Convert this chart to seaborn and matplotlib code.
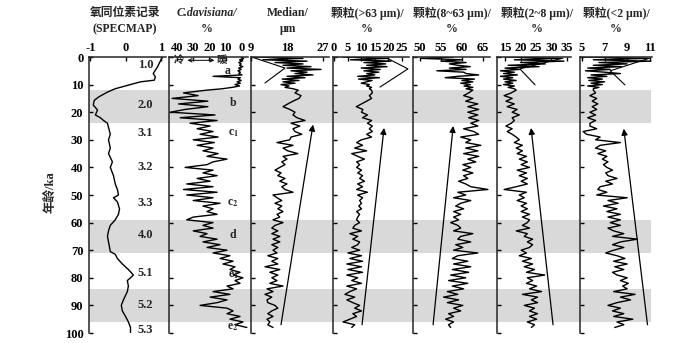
import numpy as np
import matplotlib.pyplot as plt
import seaborn as sns

# --- data (age in ka) ---
age = np.concatenate([np.arange(0, 12, 0.5), np.arange(12, 99, 1.0)])

spec_age = [0, 2, 3.6, 6, 7.2, 8.4, 9, 10.3, 11.5, 12.7, 14.5, 15.7, 17.4, 19.2, 21, 22, 23, 24,
            25.5, 28, 30, 33, 35, 38, 40, 43, 46, 48, 50, 51, 52.5, 55, 57, 59, 61, 63, 65, 67,
            69, 70.5, 71.5, 73, 75, 77, 79, 80, 81, 83, 85, 88, 90, 92, 94, 96, 98, 100]
spec_val = [1.03, 0.95, 0.89, 0.77, 0.83, 0.80, 0.41, 0.04, -0.30, -0.52, -0.77, -0.89, -0.92,
            -0.80, -0.86, -0.72, -0.63, -0.52, -0.49, -0.44, -0.49, -0.44, -0.49, -0.38, -0.44,
            -0.35, -0.30, -0.24, -0.21, -0.35, -0.24, -0.18, -0.21, -0.30, -0.44, -0.49, -0.52,
            -0.49, -0.46, -0.44, -0.30, -0.24, -0.10, 0.07, 0.21, 0.13, 0.04, 0.07, 0.04, -0.07,
            -0.13, -0.10, -0.01, 0.07, 0.13, 0.13]

davis = [0.5, -1, 1.5, 0, 2, 0.5, 1.5, -0.5, 2, 0.5, 2.5, 1, 2, 0, 17.8, 1, 2.5, 0.5, 3, 1, 4.3, 1.5, 6, 12,
         21.5, 36, 27, 43, 21, 39, 21, 35,
         44, 16.6, 38, 15.3, 32, 19.6, 27.6, 17.8, 25.8, 14.7,
         30, 17, 27.6, 17.8, 24, 14.7, 21.5, 9.2, 17.8, 21.5,
         35, 17.8, 24, 15.3, 27.6, 19.6, 34, 17.8, 36, 15.3,
         34, 17.8, 30, 13.5, 24, 17.8, 21.5, 15.3, 30, 34,
         17.8, 24, 17.8, 30, 21.5, 25.8, 15.3, 24, 13.5, 21.5,
         9.2, 17.8, 7.4, 13.5, 5.5, 11.7, 4.3, 7.4, 1.2, 5.5,
         -0.6, 4.3, 1.2, 9.2, 5.5, 17.8, 7.4, 19.6, 9.2, 15.3,
         25.8, 9.2, 5.5, 9.2, 1.2, 7.4, -0.6, 4.3, -3]

median = [10, 22, 12, 23, 15, 22, 17, 24, 18, 26.5, 19, 23, 20, 24.5, 18, 22.5, 16.8, 21, 17, 20, 16.5, 18.5, 17.5, 19.5,
          20.8, 20.0, 21.5, 21.0, 19.5, 18.2, 17.0, 18.7,
          20.0, 19.5, 20.5, 22.5, 19.0, 21.2, 19.5, 20.0, 21.7, 19.0,
          18.7, 15.5, 19.5, 17.0, 18.2, 20.7, 17.0, 18.0, 16.7, 17.5,
          16.2, 15.0, 16.5, 15.7, 17.5, 16.2, 18.0, 16.7, 17.5, 19.5,
          14.5, 15.5, 16.7, 15.0, 16.7, 15.7, 17.0, 15.5, 16.2, 14.5,
          17.0, 15.0, 14.2, 15.7, 14.2, 16.2, 14.5, 16.2, 14.2, 15.7,
          14.5, 15.5, 13.2, 15.7, 14.2, 15.7, 12.5, 16.2, 13.7, 15.7,
          14.2, 15.5, 13.7, 17.0, 13.0, 14.5, 12.5, 14.2, 13.0, 13.2,
          15.0, 15.7, 14.2, 13.2, 14.5, 13.0, 13.7, 13.2, 14.5]

coarse = [3, 20, 6, 21, 11, 19, 12, 19.5, 10, 17, 11, 16.5, 12, 15, 8.7, 16.7, 9, 14, 12, 10, 13, 12, 13.8, 13,
          13.8, 14.1, 13.0, 13.8, 12.0, 10.1, 8.2, 10.6,
          10.1, 12.3, 10.5, 13.8, 12.3, 14.1, 13.0, 14.1, 12.0, 13.8,
          10.1, 8.3, 10.5, 7.6, 12.0, 6.5, 8.7, 11.2, 8.3, 9.4,
          8.3, 10.1, 8.7, 10.5, 9.4, 11.2, 8.7, 10.5, 8.3, 12.3,
          8.7, 10.5, 9.4, 10.1, 9.1, 10.1, 8.3, 9.4, 8.7, 8.3,
          9.4, 7.6, 6.9, 10.1, 5.8, 8.7, 6.9, 9.4, 8.7, 6.5,
          9.4, 5.1, 10.1, 5.8, 10.5, 4.7, 10.1, 5.1, 10.5, 4.7,
          8.7, 6.5, 10.1, 4.7, 8.3, 5.8, 4.0, 7.6, 4.7, 6.9,
          9.4, 7.6, 10.1, 6.9, 8.3, 5.8, 3.3, 7.6, 6.5]

silt = [58, 50.2, 60, 55, 61, 57, 59, 62, 57, 61, 54, 60.4, 61, 64, 59, 56, 63, 60, 62.6, 59.7, 62, 60.5, 62.6, 61,
        62.6, 61.6, 60.4, 62.6, 60.9, 63.8, 61.4, 64.0,
        61.4, 63.8, 61.6, 64.0, 62.1, 63.8, 60.4, 62.8, 64.0, 59.7,
        62.1, 60.9, 64.5, 60.9, 63.8, 60.4, 64.0, 61.4, 63.3, 60.2,
        62.1, 60.2, 62.6, 60.4, 61.4, 59.2, 60.9, 62.1, 66.2, 59.0,
        60.9, 58.0, 62.1, 59.7, 58.5, 60.4, 58.0, 59.7, 58.0, 59.2,
        57.3, 59.0, 59.7, 58.0, 62.6, 59.7, 59.0, 62.1, 58.5, 60.2,
        58.0, 63.8, 59.0, 57.7, 61.4, 58.0, 62.1, 57.7, 61.6, 57.3,
        60.9, 56.8, 61.4, 57.7, 60.4, 56.5, 59.0, 55.6, 59.2, 56.5,
        60.2, 58.0, 59.7, 56.8, 58.0, 56.1, 58.0, 56.8, 57.3]

fine_silt = [15, 33, 18, 34, 20, 28, 16, 26, 15, 19.6, 13.5, 18, 14.5, 19, 13.5, 17.5, 14.5, 18.6, 15, 17.5, 14.5, 18, 16, 18,
             18.6, 17.0, 14.7, 17.3, 15.3, 18.0, 15.7, 18.9,
             17.3, 19.6, 17.3, 18.0, 17.0, 15.3, 17.3, 15.7, 17.3, 18.6,
             19.6, 18.0, 20.6, 18.6, 20.6, 18.9, 21.9, 19.6, 22.2, 20.2,
             22.9, 18.9, 21.9, 19.6, 22.2, 20.2, 22.2, 18.6, 14.7, 21.9,
             19.6, 21.2, 18.9, 21.9, 20.2, 22.2, 20.2, 22.9, 20.6, 22.9,
             22.2, 20.6, 22.9, 18.6, 22.2, 21.2, 23.9, 22.2, 23.9, 22.9,
             20.2, 21.9, 19.6, 23.5, 20.6, 23.9, 21.2, 24.5, 21.9, 27.8,
             22.2, 23.9, 21.9, 25.2, 22.9, 26.8, 20.6, 25.5, 23.5, 25.5,
             21.2, 24.5, 22.9, 25.5, 22.9, 25.2, 22.2, 24.5, 23.5]

clay = [5.2, 10.8, 6, 11.1, 6.5, 9, 6, 8.5, 5.5, 7.5, 5.3, 7, 8.4, 5.8, 7.2, 5.5, 6.8, 5.6, 7, 5.8, 6.8, 5.5, 6.5, 6,
        6.0, 6.2, 5.7, 6.3, 5.9, 6.4, 5.9, 6.3,
        5.7, 6.2, 5.5, 6.2, 5.7, 5.7, 6.3, 5.1, 5.4, 6.6,
        6.2, 8.4, 6.6, 6.2, 7.1, 6.4, 7.2, 6.8, 7.3, 6.9,
        7.2, 7.7, 7.1, 7.3, 8.1, 7.1, 7.7, 6.6, 6.4, 7.2,
        6.3, 9.0, 7.3, 8.2, 6.9, 8.1, 7.2, 8.4, 7.3, 8.4,
        7.5, 8.4, 7.3, 7.8, 8.7, 7.7, 9.9, 8.4, 7.7, 8.7,
        7.8, 7.1, 8.1, 8.8, 7.8, 9.0, 7.9, 8.7, 7.7, 8.1,
        9.0, 8.4, 9.1, 8.6, 9.0, 7.8, 9.7, 8.4, 9.3, 8.1,
        7.3, 8.4, 7.7, 8.7, 7.8, 9.5, 8.1, 8.7, 7.9]

# cold stages (grey bands)
bands = [(12, 24), (59, 71), (84, 96)]

stage_labels = ['1.0', '2.0', '3.1', '3.2', '3.3', '4.0', '5.1', '5.2', '5.3']
stage_ages = [3, 17.4, 27.5, 40, 53, 64.5, 78.3, 90, 98.9]
zone_labels = ['a', 'b', 'c$_1$', 'c$_2$', 'd', 'e$_1$', 'e$_2$']
zone_ages = [5, 16.7, 27.6, 53, 64.5, 79, 98]

# trend arrows (bottom point, top point) and top V-lines for grain-size panels
arrows = {2: ((16.5, 97), (24.5, 24.5)),
          3: ((10.3, 97), (18.4, 25.7)),
          4: ((53.1, 97), (57.9, 25)),
          5: ((30.5, 97), (23.4, 25.7)),
          6: ((10.8, 97), (8.7, 26))}
vlines = {2: ([10, 17.5, 12.5], [0.4, 4, 9.4]),
          3: ([19.5, 27.2, 16.9], [0.4, 4.3, 10.9]),
          5: ([33.7, 19.8, 24.7], [0.4, 4.3, 10.1]),
          6: ([11.0, 7.5, 8.8], [0.4, 5, 10.1])}

titles = [('氧同位素记录', '(SPECMAP)'), ('C.davisiana/', '%'), ('Median/', 'μm'),
          ('颗粒(>63 μm)/', '%'), ('颗粒(8~63 μm)/', '%'), ('颗粒(2~8 μm)/', '%'), ('颗粒(<2 μm)/', '%')]
title_x = [125, 207, 288, 367, 452, 537, 616]

panel_px = [(89, 166), (169, 248), (251, 329), (333, 409), (413, 490), (497, 571), (580, 652)]
xlims = [(-1.04, 1.13), (44.9, -3.7), (9, 28.5), (-0.4, 27.6), (48.3, 66.7), (12.4, 36.3), (4.82, 11.2)]
xticks = [[-1, 0, 1], [40, 30, 20, 10, 0], [9, 18, 27], [0, 5, 10, 15, 20, 25],
          [50, 55, 60, 65], [15, 20, 25, 30, 35], [5, 7, 9, 11]]

# --- plotting ---
sns.set_style('ticks')
plt.rcParams['font.family'] = ['Liberation Serif', 'Noto Sans CJK SC']
plt.rcParams['font.weight'] = 'bold'
plt.rcParams['mathtext.fontset'] = 'stix'
plt.rcParams['axes.unicode_minus'] = False

W, H = 692, 343
TOP, BOT = 57, 333
fig = plt.figure(figsize=(W / 100, H / 100), dpi=100)


def box(l, r):
    return [l / W, 1 - BOT / H, (r - l) / W, (BOT - TOP) / H]


bg = fig.add_axes(box(89, 651))
bg.set_ylim(100, 0)
bg.axis('off')
for a, b in bands:
    bg.axhspan(a, b, color='#d9d9d9', lw=0)

series = [(spec_val, spec_age), (davis, age), (median, age), (coarse, age),
          (silt, age), (fine_silt, age), (clay, age)]

axes = []
for i, (l, r) in enumerate(panel_px):
    ax = fig.add_axes(box(l, r))
    ax.patch.set_alpha(0)
    vals, ages = series[i]
    sns.lineplot(x=vals, y=ages, orient='y', sort=False, estimator=None,
                 color='black', linewidth=1.0, ax=ax)
    ax.set_xlim(*xlims[i])
    ax.set_ylim(100, 0)
    ax.set_xticks(xticks[i])
    ax.set_yticks(range(0, 101, 10))
    ax.xaxis.tick_top()
    for s in ['right', 'bottom']:
        ax.spines[s].set_visible(False)
    for s in ['left', 'top']:
        ax.spines[s].set_linewidth(1.1)
    ax.tick_params(axis='both', direction='in', length=3, width=1.0, labelsize=9, colors='black')
    ax.tick_params(axis='x', pad=2.5)
    ax.tick_params(axis='y', pad=4, labelleft=(i == 0))
    ax.set_xlabel('')
    ax.set_ylabel('')
    fig.text(title_x[i] / W, 1 - 13 / H, titles[i][0], ha='center', va='center', fontsize=8.5,
             style='italic' if i == 1 else 'normal')
    fig.text(title_x[i] / W, 1 - 29 / H, titles[i][1], ha='center', va='center', fontsize=8.5)
    axes.append(ax)

# stage numbers in the SPECMAP panel
for lab, a in zip(stage_labels, stage_ages):
    axes[0].text(0.55, a, lab, ha='center', va='center', fontsize=9)

# zones in the C. davisiana panel
for lab, a in zip(zone_labels, zone_ages):
    axes[1].text(5.5 if lab != 'a' else 8.6, a, lab, ha='center', va='center', fontsize=8.5)
axes[1].text(39, 1.2, '冷', ha='center', va='center', fontsize=7.5)
axes[1].text(12.3, 1.2, '暖', ha='center', va='center', fontsize=7.5)
axes[1].annotate('', xy=(33.5, 1.2), xytext=(17, 1.2),
                 arrowprops=dict(arrowstyle='<->', color='black', lw=0.7, mutation_scale=6,
                                 shrinkA=0, shrinkB=0))

for i, (p0, p1) in arrows.items():
    axes[i].annotate('', xy=p1, xytext=p0,
                     arrowprops=dict(arrowstyle='-|>', color='black', lw=0.9, mutation_scale=9,
                                     shrinkA=0, shrinkB=0))
for i, (xs, ys) in vlines.items():
    axes[i].plot(xs, ys, color='black', lw=0.8)

fig.text(50 / W, 1 - 192 / H, '年龄/ka', rotation=90, ha='center', va='center', fontsize=9)

fig.savefig('out.png', dpi=100)
